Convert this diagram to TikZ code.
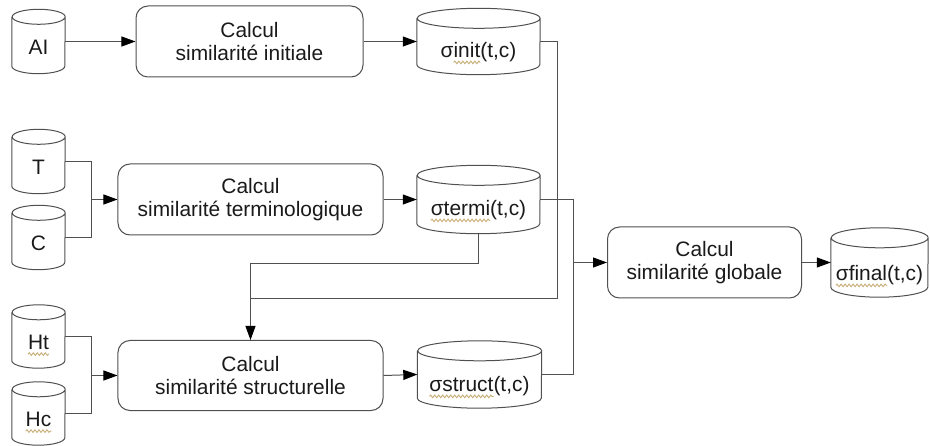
\documentclass[tikz,border=0pt]{standalone}
\usepackage{fontspec}
\setmainfont{Liberation Sans}
\usetikzlibrary{arrows.meta,decorations.pathmorphing,calc}

\definecolor{edge}{HTML}{505050}
\definecolor{ink}{HTML}{1A1A1A}
\definecolor{spell}{HTML}{C9AE78}

\tikzset{
  proc/.style={draw=edge, line width=1bp, rounded corners=12bp, fill=white,
    align=center, font=\fontsize{21}{23.5}\selectfont, text=ink, inner sep=0pt},
  cylbox/.style={inner sep=0pt, draw=none},
  cylline/.style={draw=edge, line width=1bp, fill=white},
  lbl/.style={font=\fontsize{21}{23.5}\selectfont, text=ink, inner sep=0pt},
  wire/.style={draw=edge, line width=1bp},
  flow/.style={wire, -{Triangle[length=14bp,width=10bp,color=black]}},
  squigline/.style={spell, line width=0.9bp, decorate,
    decoration={snake, amplitude=1.3bp, segment length=4bp}},
}

% wavy underline under a word
\newlength\squigw
\newcommand\squig[1]{\settowidth{\squigw}{#1}%
  \rlap{\tikz[overlay,baseline=0pt]\draw[squigline] (0pt,-4.5bp) -- (\squigw,-4.5bp);}#1}

% data store: name, cx, cy, width, height, ellipse radius, label drop, label
\newcommand\dbcyl[8]{%
  \node[cylbox, minimum width=#4bp, minimum height=#5bp] (#1) at (#2,#3) {};
  \draw[cylline] ([yshift=-#6bp]#1.north west) -- ([yshift=#6bp]#1.south west)
     arc[start angle=180, end angle=360, x radius=#4bp/2, y radius=#6bp]
     -- ([yshift=-#6bp]#1.north east)
     arc[start angle=0, end angle=180, x radius=#4bp/2, y radius=#6bp]
     arc[start angle=180, end angle=360, x radius=#4bp/2, y radius=#6bp];
  \node[lbl] (#1-txt) at ([yshift=-#7bp]#1.center) {#8};
}

\begin{document}
\begin{tikzpicture}[x=1bp, y=-1bp]
\useasboundingbox (0,0) rectangle (930,446);

% input stores
\dbcyl{AI}{38.5}{41.5}{53}{64}{7.5}{6}{AI}
\dbcyl{T}{38.5}{161.5}{53}{64}{7.5}{6}{T}
\dbcyl{C}{38.5}{237.5}{53}{64}{7.5}{6}{C}
\dbcyl{Ht}{38.5}{336.5}{53}{63}{7.5}{6}{\squig{Ht}}
\dbcyl{Hc}{38.5}{413.5}{53}{63}{7.5}{6}{\squig{Hc}}

% processing steps
\node[proc, minimum width=227bp, minimum height=71bp] (B1) at (249.5,41.5)
  {Calcul\\similarité initiale};
\node[proc, minimum width=265bp, minimum height=71bp] (B2) at (250.5,199.5)
  {Calcul\\similarité terminologique};
\node[proc, minimum width=265bp, minimum height=70bp] (B3) at (250.5,375.5)
  {Calcul\\similarité structurelle};
\node[proc, minimum width=194bp, minimum height=71bp] (B4) at (704.5,262.5)
  {Calcul\\similarité globale};

% result stores
\dbcyl{init}{478.5}{41.5}{123}{66}{10}{11}{σ\squig{init}(t,c)}
\dbcyl{termi}{478.5}{199.5}{123}{68}{10}{11}{\squig{σtermi}(t,c)}
\dbcyl{struct}{479.5}{374.5}{124}{67}{10}{12}{\squig{σstruct}(t,c)}
\dbcyl{final}{879.5}{262.5}{97}{69}{10}{13}{\squig{σfinal}(t,c)}

% junction points
\coordinate (j1) at ([xshift=-26bp]B2.west);
\coordinate (j2) at ([xshift=-26bp]B3.west);
\coordinate (j3) at ([xshift=-34bp]B4.west);
\coordinate (k1) at ($(termi.south)+(0,30)$);
\coordinate (c1) at (557.5,298.5);

% connectors
\draw[flow] (AI.east) -- (B1.west);
\draw[flow] (B1.east) -- (init.west);

\draw[wire] (T.east) -| (j1);
\draw[wire] (C.east) -| (j1);
\draw[flow] (j1) -- (B2.west);
\draw[flow] (B2.east) -- (termi.west);

\draw[wire] (Ht.east) -| (j2);
\draw[wire] (Hc.east) -| (j2);
\draw[flow] (j2) -- (B3.west);
\draw[flow] (B3.east) -- (struct.west);

\draw[wire] (init.east) -| (c1) -- (c1 -| B3.north);
\draw[flow] (termi.south) -- (k1) -| (B3.north);

\draw[wire] (termi.east) -| (j3);
\draw[wire] (struct.east) -| (j3);
\draw[flow] (j3) -- (B4.west);
\draw[flow] (B4.east) -- (final.west);
\end{tikzpicture}
\end{document}
